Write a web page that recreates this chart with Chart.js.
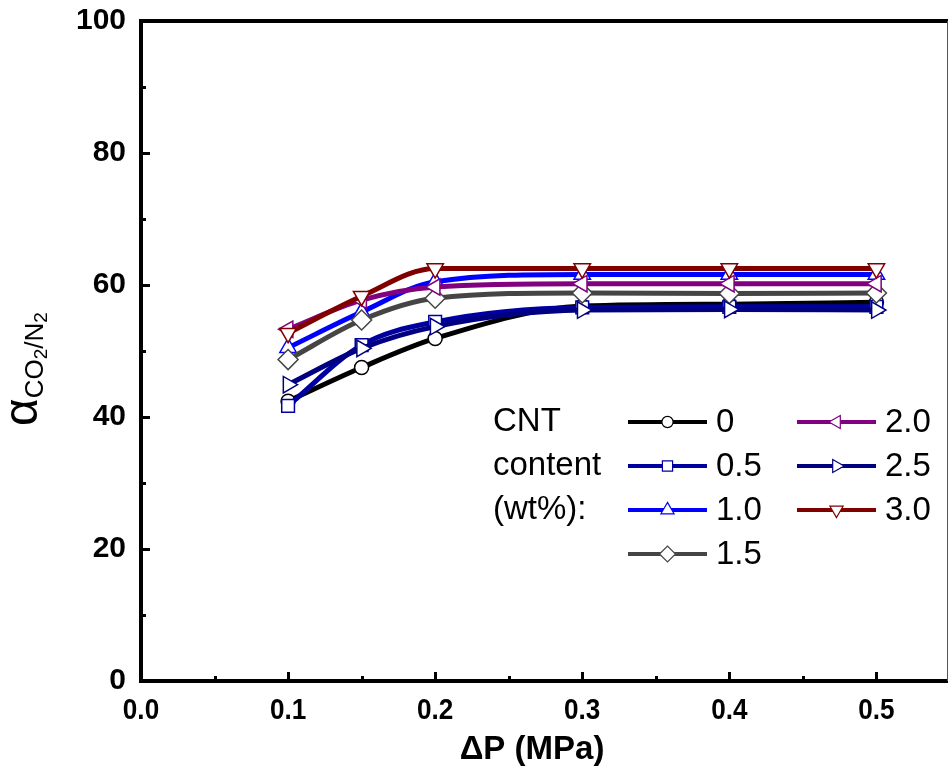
<!DOCTYPE html>
<html>
<head>
<meta charset="utf-8">
<script src="https://cdn.jsdelivr.net/npm/chart.js"></script>
<style>
  html, body { margin: 0; padding: 0; background: #fff; }
  canvas { display: block; }
</style>
</head>
<body>
<canvas id="alphaChart" width="948" height="767"></canvas>
<script>
// pressure difference (MPa)
const pressure = [0.1, 0.15, 0.2, 0.3, 0.4, 0.5];

// CO2/N2 selectivity for each CNT content (wt%)
const cntLabels = ['0', '0.5', '1.0', '1.5', '2.0', '2.5', '3.0'];
const alphaCnt00 = [42.4, 47.5, 51.9, 56.8, 57.1, 57.4];
const alphaCnt05 = [41.7, 50.9, 54.4, 56.6, 56.7, 56.7];
const alphaCnt10 = [50.5, 55.9, 60.5, 61.6, 61.6, 61.6];
const alphaCnt15 = [48.7, 54.7, 58.0, 58.8, 58.7, 58.8];
const alphaCnt20 = [53.3, 57.7, 59.7, 60.2, 60.2, 60.2];
const alphaCnt25 = [44.9, 50.4, 53.7, 56.2, 56.3, 56.2];
const alphaCnt30 = [52.7, 58.3, 62.5, 62.5, 62.5, 62.5];

const xTicks = [0, 0.1, 0.2, 0.3, 0.4, 0.5];
const yTicks = [0, 20, 40, 60, 80, 100];

const seriesValues = [alphaCnt00, alphaCnt05, alphaCnt10, alphaCnt15, alphaCnt20, alphaCnt25, alphaCnt30];
const colors = ['#000000', '#0000A0', '#0000FF', '#454545', '#800080', '#000080', '#800000'];
const markers = [
  { style: 'circle',   rot: 0,   r: 7 },
  { style: 'rect',     rot: 0,   r: 9 },
  { style: 'triangle', rot: 0,   r: 9.5 },
  { style: 'rectRot',  rot: 0,   r: 10 },
  { style: 'triangle', rot: 270, r: 9.5 },
  { style: 'triangle', rot: 90,  r: 9.5 },
  { style: 'triangle', rot: 180, r: 9.5 }
];

const datasets = seriesValues.map((vals, i) => ({
  label: cntLabels[i],
  data: pressure.map((p, j) => ({ x: p, y: vals[j] })),
  borderColor: colors[i],
  borderWidth: 5,
  cubicInterpolationMode: 'monotone',
  pointStyle: markers[i].style,
  pointRotation: markers[i].rot,
  pointRadius: markers[i].r,
  pointBorderWidth: 1.5,
  pointBorderColor: colors[i],
  pointBackgroundColor: '#ffffff',
  order: 6 - i   // later series drawn on top
}));

// inner tick marks, top/right frame, x tick labels and x title
const frameTicks = {
  id: 'frameTicks',
  afterDatasetsDraw(chart) {
    const { ctx, chartArea: a, scales: { x, y } } = chart;
    ctx.save();
    ctx.strokeStyle = '#000';
    ctx.lineWidth = 3;
    for (let v = 0; v <= 0.5001; v += 0.05) {
      const px = Math.round(x.getPixelForValue(v)) + 0.5;
      const len = Math.abs(v * 10 - Math.round(v * 10)) < 1e-6 ? 9 : 5;
      ctx.beginPath();
      ctx.moveTo(px, a.bottom);
      ctx.lineTo(px, a.bottom - len);
      ctx.stroke();
    }
    for (let v = 0; v <= 100; v += 10) {
      const py = Math.round(y.getPixelForValue(v)) + 0.5;
      const len = v % 20 === 0 ? 9 : 5;
      ctx.beginPath();
      ctx.moveTo(a.left, py);
      ctx.lineTo(a.left + len, py);
      ctx.stroke();
    }
    // top axis line
    ctx.lineWidth = 4;
    ctx.beginPath();
    ctx.moveTo(a.left - 2, a.top);
    ctx.lineTo(chart.width, a.top);
    ctx.stroke();
    // right edge
    ctx.lineWidth = 1;
    ctx.strokeStyle = '#555';
    ctx.beginPath();
    ctx.moveTo(a.right + 0.5, a.top);
    ctx.lineTo(a.right + 0.5, a.bottom);
    ctx.stroke();

    // x tick labels
    ctx.fillStyle = '#000';
    ctx.textAlign = 'center';
    ctx.textBaseline = 'top';
    ctx.font = 'bold 29px "Liberation Sans", Arial, sans-serif';
    xTicks.forEach(v => {
      const px = x.getPixelForValue(v);
      ctx.save();
      ctx.translate(px, a.bottom + 15);
      ctx.scale(0.9, 1);
      ctx.fillText(v.toFixed(1), 0, 0);
      ctx.restore();
    });
    // x title
    ctx.font = 'bold 33px "Liberation Sans", Arial, sans-serif';
    ctx.textBaseline = 'middle';
    ctx.fillText('ΔP (MPa)', 532, 750);
    ctx.restore();
  }
};

// y title: alpha with CO2/N2 subscript, rotated
const yTitle = {
  id: 'yTitle',
  afterDraw(chart) {
    const ctx = chart.ctx;
    ctx.save();
    ctx.translate(37, 426);
    ctx.rotate(-Math.PI / 2);
    ctx.fillStyle = '#000';
    ctx.textBaseline = 'alphabetic';
    ctx.textAlign = 'left';
    const parts = [
      ['α', '48px "Liberation Sans", Arial, sans-serif', 0],
      ['CO', '26px "Liberation Sans", Arial, sans-serif', 6],
      ['2', '19px "Liberation Sans", Arial, sans-serif', 10],
      ['/N', '26px "Liberation Sans", Arial, sans-serif', 6],
      ['2', '19px "Liberation Sans", Arial, sans-serif', 10]
    ];
    let cx = 0;
    parts.forEach(([t, f, dy]) => {
      ctx.font = f;
      ctx.fillText(t, cx, dy);
      cx += ctx.measureText(t).width;
    });
    ctx.restore();
  }
};

// legend: "CNT content (wt%):" with two columns of line+marker samples
const cntLegend = {
  id: 'cntLegend',
  afterDraw(chart) {
    const ctx = chart.ctx;
    const rows = [422, 466, 510, 554];
    const font = '33px "Liberation Sans", Arial, sans-serif';
    ctx.save();
    ctx.font = font;
    ctx.fillStyle = '#000';
    ctx.textBaseline = 'middle';
    ctx.textAlign = 'left';
    ['CNT', 'content', '(wt%):'].forEach((t, i) => ctx.fillText(t, 493, rows[i]));

    const cols = [{ x0: 628, x1: 707, tx: 716 }, { x0: 797, x1: 876, tx: 885 }];
    cntLabels.forEach((lab, i) => {
      const col = cols[i < 4 ? 0 : 1];
      const yy = rows[i < 4 ? i : i - 4];
      ctx.strokeStyle = colors[i];
      ctx.lineWidth = 4;
      ctx.beginPath();
      ctx.moveTo(col.x0, yy);
      ctx.lineTo(col.x1, yy);
      ctx.stroke();
      const mx = (col.x0 + col.x1) / 2;
      ctx.fillStyle = '#fff';
      ctx.lineWidth = 1.2;
      Chart.helpers.drawPoint(ctx, {
        pointStyle: markers[i].style,
        rotation: markers[i].rot,
        radius: markers[i].r * 0.8,
        borderWidth: 1.2
      }, mx, yy);
      ctx.fillStyle = '#000';
      ctx.font = font;
      ctx.fillText(lab, col.tx, yy + 1);
    });
    ctx.restore();
  }
};

new Chart(document.getElementById('alphaChart'), {
  type: 'line',
  data: { datasets },
  options: {
    responsive: false,
    animation: false,
    layout: { autoPadding: false, padding: { top: 21, right: 1, left: 0, bottom: 0 } },
    plugins: {
      legend: { display: false },
      tooltip: { enabled: false }
    },
    scales: {
      x: {
        type: 'linear',
        min: 0,
        max: 0.548,
        afterFit: s => {
          s.height = 86;
          s.paddingLeft = 0; s.paddingRight = 0; s.paddingTop = 0; s.paddingBottom = 0;
        },
        afterBuildTicks: s => { s.ticks = xTicks.map(v => ({ value: v })); },
        grid: { display: false, drawTicks: false },
        border: { display: true, color: '#000', width: 4 },
        ticks: { display: false }
      },
      y: {
        min: 0,
        max: 100,
        afterFit: s => {
          s.width = 141;
          s.paddingLeft = 0; s.paddingRight = 0; s.paddingTop = 0; s.paddingBottom = 0;
        },
        afterBuildTicks: s => { s.ticks = yTicks.map(v => ({ value: v })); },
        grid: { display: false, drawTicks: false },
        border: { display: true, color: '#000', width: 4 },
        ticks: {
          padding: 15,
          color: '#000',
          font: { family: '"Liberation Sans", Arial, sans-serif', size: 30, weight: 'bold' }
        }
      }
    }
  },
  plugins: [frameTicks, yTitle, cntLegend]
});
</script>
</body>
</html>
